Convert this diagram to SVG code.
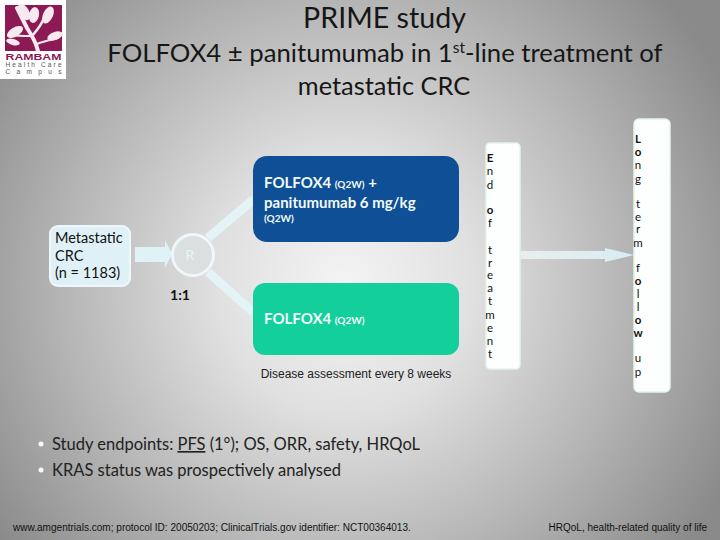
<svg xmlns="http://www.w3.org/2000/svg" width="720" height="540" viewBox="0 0 720 540">
<defs>
<radialGradient id="bg" gradientUnits="userSpaceOnUse" cx="345" cy="285" r="430">
<stop offset="0" stop-color="#f4f4f4"/>
<stop offset="0.3" stop-color="#e0e0e0"/>
<stop offset="0.65" stop-color="#b6b6b6"/>
<stop offset="1" stop-color="#8a8a8a"/>
</radialGradient>
<linearGradient id="arrowG" x1="0" y1="0" x2="1" y2="0">
<stop offset="0" stop-color="#e8eeee"/>
<stop offset="1" stop-color="#d8edf2"/>
</linearGradient>
</defs>
<style>
text{font-family:"Lato","Liberation Sans",sans-serif;fill:#111}
.title{fill:#161616;text-anchor:middle}
.sans{font-family:"Liberation Sans",Arial,sans-serif}
.w{fill:#f2fbfa;font-weight:700;font-size:15px}
.s{font-size:10px;font-weight:700;fill:#f2fbfa}
.v{font-size:11.5px;text-anchor:middle}
.vb{font-size:11.5px;text-anchor:middle;font-weight:700}
.body{font-size:16.5px;fill:#222}
.panel{fill:#fdfefe;stroke:#e2f5f1;stroke-width:1.5}
</style>
<rect width="720" height="540" fill="url(#bg)"/>

<g id="logo">
<rect x="0" y="0" width="66" height="79" fill="#ffffff"/>
<rect x="5" y="5" width="57" height="46" fill="#8b1a55"/>
<g fill="none" stroke="#f6e9ef" stroke-linecap="round">
<path d="M38 51 C36 42 31 34 27 28 C24 22 21 16 17 8" stroke-width="4"/>
<path d="M32 36 C37 30 41 26 44 18" stroke-width="2.5"/>
<path d="M37 44 C44 41 50 40 58 38" stroke-width="2"/>
<path d="M30 36 C24 36 18 36 10 35" stroke-width="2"/>
</g>
<g fill="#f6e9ef">
<ellipse cx="24" cy="12" rx="5" ry="9" transform="rotate(-30 24 12)"/>
<ellipse cx="34" cy="15" rx="5" ry="8" transform="rotate(12 34 15)"/>
<ellipse cx="48" cy="15" rx="5" ry="9" transform="rotate(25 48 15)"/>
<ellipse cx="15" cy="32" rx="9" ry="4.5" transform="rotate(-30 15 32)"/>
<ellipse cx="55" cy="36" rx="8" ry="4" transform="rotate(-20 55 36)"/>
<ellipse cx="13" cy="42" rx="7" ry="3" transform="rotate(15 13 42)"/>
</g>
<text class="sans" x="33.5" y="60" font-size="9.5" font-weight="700" text-anchor="middle" style="fill:#8b1a55" textLength="56" lengthAdjust="spacingAndGlyphs">RAMBAM</text>
<text class="sans" x="33.5" y="67" font-size="6.5" text-anchor="middle" style="fill:#555" textLength="56">Health Care</text>
<text class="sans" x="33.5" y="73.500" font-size="6.5" text-anchor="middle" style="fill:#555" textLength="56">Campus</text>
</g>

<g id="title">
<text class="title" x="384.500" y="28" font-size="28.600">PRIME study</text>
<text class="title" x="385" y="62" font-size="25.700">FOLFOX4 ± panitumumab in 1<tspan font-size="15.500" dy="-9">st</tspan><tspan dy="9">-line treatment of</tspan></text>
<text class="title" x="384" y="95" font-size="25.400">metastatic CRC</text>
</g>

<g id="connectors">
<path d="M135 247H165V240L172 254L165 268V262H135Z" fill="#dff2f6"/>
<path d="M208 238L254 199" stroke="#e4f3f6" stroke-width="9" fill="none"/>
<path d="M208 272L254 313" stroke="#e4f3f6" stroke-width="9" fill="none"/>
<path d="M521 251H605V248L634 255L605 262V259H521Z" fill="url(#arrowG)"/>
</g>

<g id="node-metastatic">
<rect x="50" y="226" width="80" height="60" rx="8" fill="#dff1f7" stroke="#eef8fa" stroke-width="2"/>
<text x="55" y="243" font-size="14.500">Metastatic</text>
<text x="55" y="261" font-size="14.500">CRC</text>
<text x="55" y="278" font-size="14.500">(n = 1183)</text>
</g>

<g id="node-r">
<circle cx="193" cy="255" r="20.500" fill="#dcdfe0" stroke="#eef7f9" stroke-width="3"/>
<text x="185.500" y="260" font-size="14" style="fill:#e6f4f7">R</text>
</g>
<text id="ratio" x="180" y="300" font-size="14" font-weight="700" text-anchor="middle">1:1</text>

<g id="node-folfox-pan">
<rect x="253" y="156" width="206" height="86" rx="14" fill="#0f4f96"/>
<text class="w" x="264" y="188">FOLFOX4 <tspan class="s">(Q2W)</tspan> +</text>
<text class="w" x="264" y="208">panitumumab 6 mg/kg</text>
<text class="s" x="264" y="222">(Q2W)</text>
</g>

<g id="node-folfox">
<rect x="253" y="283" width="206" height="72" rx="12" fill="#12cf9b"/>
<text class="w" x="264" y="324">FOLFOX4 <tspan class="s">(Q2W)</tspan></text>
</g>

<text id="assessment" class="sans" x="356" y="378" font-size="12" text-anchor="middle" style="fill:#222">Disease assessment every 8 weeks</text>

<g id="node-end">
<rect x="486" y="143" width="34" height="226" rx="4" class="panel"/>
<text class="vb" x="490" y="162">E</text>
<text class="v" x="490" y="175">n</text>
<text class="v" x="490" y="189">d</text>
<text class="vb" x="490" y="214">o</text>
<text class="v" x="490" y="227">f</text>
<text class="v" x="490" y="254">t</text>
<text class="v" x="490" y="267">r</text>
<text class="v" x="490" y="279">e</text>
<text class="v" x="490" y="292">a</text>
<text class="v" x="490" y="305">t</text>
<text class="v" x="490" y="319">m</text>
<text class="v" x="490" y="332">e</text>
<text class="v" x="490" y="345">n</text>
<text class="v" x="490" y="358">t</text>
</g>

<g id="node-long">
<rect x="634" y="119" width="36" height="273" rx="5" class="panel"/>
<text class="vb" x="638" y="143">L</text>
<text class="vb" x="638" y="156">o</text>
<text class="v" x="638" y="169">n</text>
<text class="v" x="638" y="183">g</text>
<text class="v" x="638" y="208">t</text>
<text class="v" x="638" y="221">e</text>
<text class="v" x="638" y="233">r</text>
<text class="v" x="638" y="247">m</text>
<text class="v" x="638" y="272">f</text>
<text class="vb" x="638" y="285">o</text>
<text class="v" x="638" y="298">l</text>
<text class="v" x="638" y="311">l</text>
<text class="vb" x="638" y="324">o</text>
<text class="vb" x="638" y="337">w</text>
<text class="v" x="638" y="362">u</text>
<text class="v" x="638" y="376">p</text>
</g>

<g id="bullets">
<circle cx="41" cy="444" r="2.500" fill="#f2fbfb"/>
<circle cx="41" cy="470" r="2.500" fill="#f2fbfb"/>
<text class="body" x="52" y="450">Study endpoints: <tspan text-decoration="underline">PFS</tspan> (1°); OS, ORR, safety, HRQoL</text>
<text class="body" x="52" y="476">KRAS status was prospectively analysed</text>
</g>

<g id="footer">
<text class="sans" x="13" y="531" font-size="10.050" style="fill:#111">www.amgentrials.com; protocol ID: 20050203; ClinicalTrials.gov identifier: NCT00364013.</text>
<text class="sans" x="707" y="531" font-size="10" text-anchor="end" style="fill:#111">HRQoL, health-related quality of life</text>
</g>
</svg>
